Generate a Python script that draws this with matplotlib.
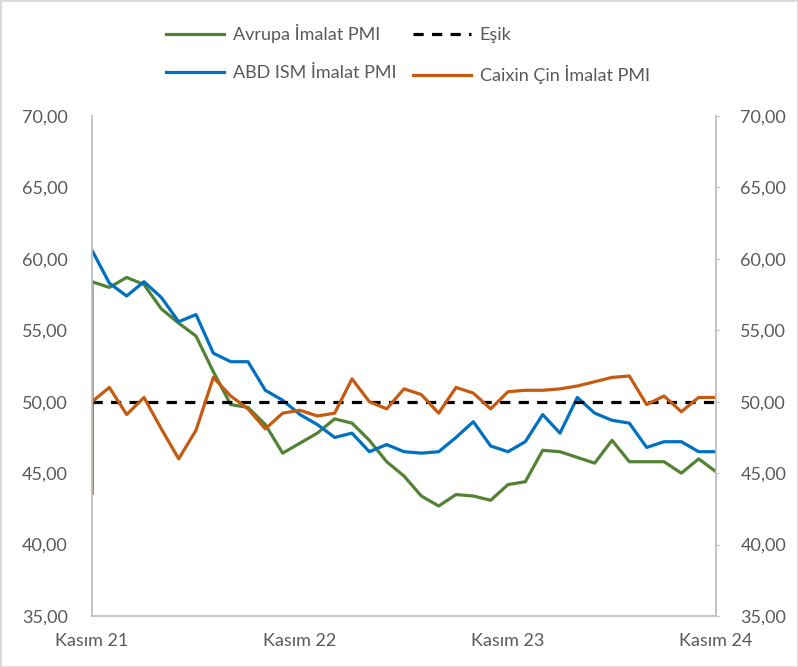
import matplotlib
matplotlib.use("Agg")
import matplotlib.pyplot as plt
from matplotlib.patches import Rectangle
from matplotlib.ticker import FixedLocator, FuncFormatter

# monthly readings, Kasim 2021 .. Kasim 2024 (37 months)
month_idx = list(range(37))
tick_pos = [0, 12, 24, 36]
tick_labels = ["Kasım 21", "Kasım 22", "Kasım 23", "Kasım 24"]

avrupa = [58.4, 58.0, 58.7, 58.2, 56.5, 55.5, 54.6, 52.1, 49.8, 49.6,
          48.4, 46.4, 47.1, 47.8, 48.8, 48.5, 47.3, 45.8, 44.8, 43.4,
          42.7, 43.5, 43.4, 43.1, 44.2, 44.4, 46.6, 46.5, 46.1, 45.7,
          47.3, 45.8, 45.8, 45.8, 45.0, 46.0, 45.1]
abd_ism = [60.6, 58.3, 57.4, 58.4, 57.3, 55.6, 56.1, 53.4, 52.8, 52.8,
           50.8, 50.1, 49.1, 48.4, 47.5, 47.8, 46.5, 47.0, 46.5, 46.4,
           46.5, 47.5, 48.6, 46.9, 46.5, 47.2, 49.1, 47.8, 50.3, 49.2,
           48.7, 48.5, 46.8, 47.2, 47.2, 46.5, 46.5]
caixin = [50.0, 51.0, 49.1, 50.3, 48.1, 46.0, 48.0, 51.7, 50.4, 49.5,
          48.1, 49.2, 49.4, 49.0, 49.2, 51.6, 50.0, 49.5, 50.9, 50.5,
          49.2, 51.0, 50.6, 49.5, 50.7, 50.8, 50.8, 50.9, 51.1, 51.4,
          51.7, 51.8, 49.8, 50.4, 49.3, 50.3, 50.3]
esik = [50.0] * 37

# stray first rows in the source sheet (drawn at the first month)
avrupa_lead = 43.6
caixin_lead = 43.6

GREEN = "#548235"
BLUE = "#0070C0"
ORANGE = "#C55A11"
GRAY_TXT = "#595959"
GRAY_AX = "#bfbfbf"

plt.rcParams["font.family"] = ["Lato", "DejaVu Sans"]


def fmt_tr(v, pos):
    return f"{v:.2f}".replace(".", ",")


def main():
    fig = plt.figure(figsize=(7.98, 6.67), dpi=100)
    ax = fig.add_axes([92 / 798, 1 - 616 / 667, (716 - 92) / 798, 500 / 667])

    x_lead = [month_idx[0]] + month_idx
    l_eu, = ax.plot(x_lead, [avrupa_lead] + avrupa, color=GREEN, lw=2.3,
                    label="Avrupa İmalat PMI")
    l_us, = ax.plot(month_idx, abd_ism, color=BLUE, lw=2.3,
                    label="ABD ISM İmalat PMI")
    l_th, = ax.plot(month_idx, esik, color="black", lw=2.3,
                    dashes=(3.2, 2.6), label="Eşik")
    l_cn, = ax.plot(x_lead, [caixin_lead] + caixin, color=ORANGE, lw=2.3,
                    label="Caixin Çin İmalat PMI")

    ax.set_xlim(0, 36)
    ax.set_ylim(35, 70)
    ax.yaxis.set_major_locator(FixedLocator([35, 40, 45, 50, 55, 60, 65, 70]))
    ax.yaxis.set_major_formatter(FuncFormatter(fmt_tr))
    ax.set_xticks(tick_pos)
    ax.set_xticklabels(tick_labels)

    for s in ["left", "right", "bottom"]:
        ax.spines[s].set_color(GRAY_AX)
        ax.spines[s].set_linewidth(1.3)
    ax.spines["top"].set_visible(False)

    ax.tick_params(axis="y", left=False, right=True, labelleft=True,
                   labelright=True, direction="out", length=2.5,
                   color=GRAY_AX, labelsize=13, labelcolor=GRAY_TXT, pad=15)
    ax.tick_params(axis="x", length=0, labelsize=13, labelcolor=GRAY_TXT,
                   pad=12)

    fig.legend(handles=[l_eu, l_us, l_th, l_cn], ncol=2, frameon=False,
               loc="center", bbox_to_anchor=(408 / 798, 1 - 54 / 667),
               fontsize=13, labelcolor=GRAY_TXT, handlelength=3.2,
               handletextpad=0.5, columnspacing=0.9, labelspacing=1.2)

    fig.patches.append(Rectangle((0, 0), 1, 1, transform=fig.transFigure,
                                 fill=False, edgecolor="#d9d9d9", lw=2))

    fig.savefig("out.png", dpi=100)


if __name__ == "__main__":
    main()
